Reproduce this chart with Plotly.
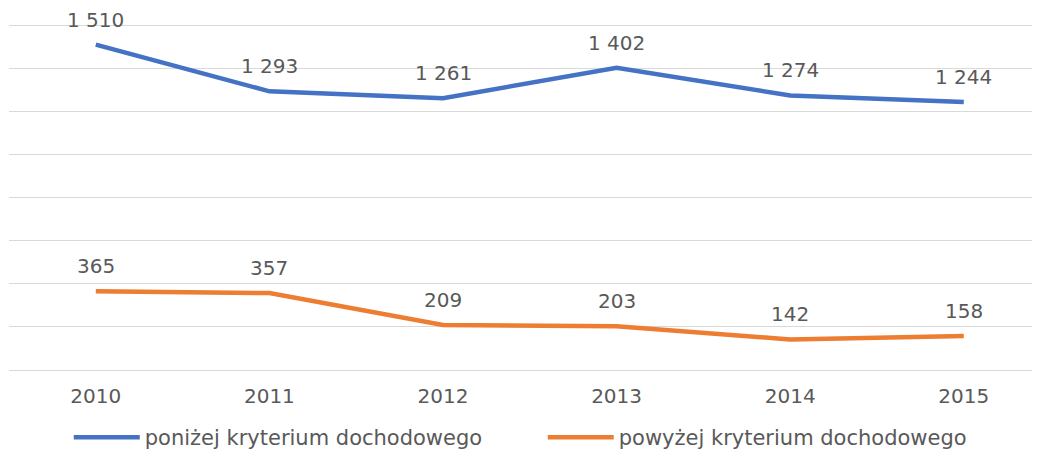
import plotly.graph_objects as go

years = ["2010", "2011", "2012", "2013", "2014", "2015"]
below = [1510, 1293, 1261, 1402, 1274, 1244]
above = [365, 357, 209, 203, 142, 158]
below_labels = ["1 510", "1 293", "1 261", "1 402", "1 274", "1 244"]
above_labels = ["365", "357", "209", "203", "142", "158"]
series_names = ["poniżej kryterium dochodowego", "powyżej kryterium dochodowego"]

BLUE = "#4472C4"
ORANGE = "#ED7D31"
TXT = "#595959"
FONT = "DejaVu Sans"
FS = 20

fig = go.Figure()
fig.add_trace(go.Scatter(x=years, y=below, mode="lines", name=series_names[0],
                         line=dict(color=BLUE, width=4.5)))
fig.add_trace(go.Scatter(x=years, y=above, mode="lines", name=series_names[1],
                         line=dict(color=ORANGE, width=4.5)))

for ys, labs in ((below, below_labels), (above, above_labels)):
    for i, (yv, t) in enumerate(zip(ys, labs)):
        fig.add_annotation(x=i, y=yv, text=t, showarrow=False, yshift=25, borderpad=0,
                           font=dict(family=FONT, size=FS, color=TXT))

fig.update_layout(
    width=1032, height=450,
    margin=dict(l=1, r=0, t=15, b=86),
    paper_bgcolor="white", plot_bgcolor="white",
    font=dict(family=FONT, size=FS, color=TXT),
    showlegend=True,
    legend=dict(orientation="h", x=0.5177, xanchor="center", y=-0.195, yanchor="middle",
                font=dict(family=FONT, size=21, color=TXT), itemwidth=66,
                entrywidth=393, bgcolor="rgba(0,0,0,0)"),
)
fig.update_xaxes(type="category", range=[-0.5, 5.439], showgrid=False, zeroline=False,
                 showline=False, ticks="", ticklabelstandoff=12,
                 tickfont=dict(family=FONT, size=FS, color=TXT))
fig.update_yaxes(range=[0, 1610], tickvals=[0, 200, 400, 600, 800, 1000, 1200, 1400, 1600],
                 showticklabels=False, showgrid=True,
                 gridcolor="#D9D9D9", gridwidth=1, zeroline=True, zerolinecolor="#D9D9D9",
                 zerolinewidth=1, showline=False)

fig.write_html("out.html")
